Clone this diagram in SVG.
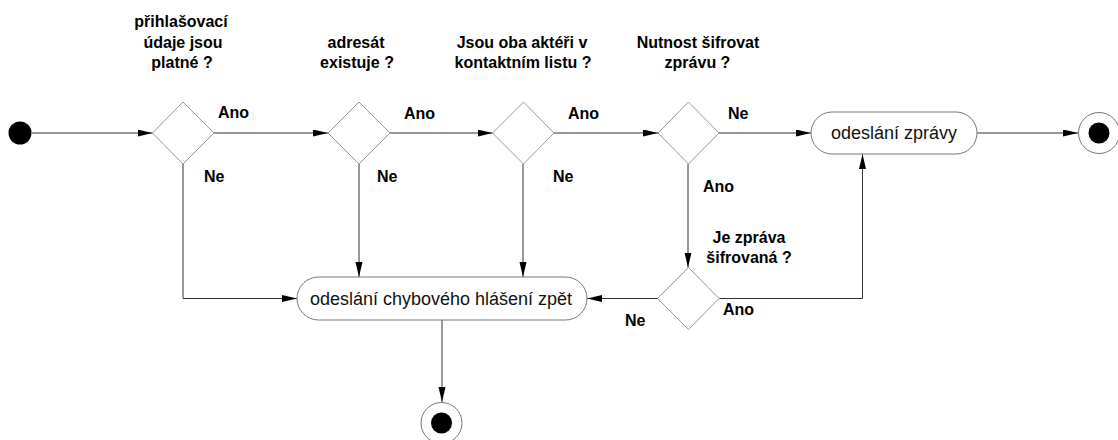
<svg xmlns="http://www.w3.org/2000/svg" width="1118" height="440" viewBox="0 0 1118 440">
<style>
.lbl{font-family:"Liberation Sans",Arial,sans-serif;font-size:16px;font-weight:bold;fill:#000}
.act{font-family:"Liberation Sans",Arial,sans-serif;font-size:18px;fill:#111}
.dia{fill:#fff;stroke:#999;stroke-width:1}
.box{fill:#fff;stroke:#777;stroke-width:1}
.ln{fill:none;stroke:#333;stroke-width:1}
</style>
<defs>
<marker id="ar" markerUnits="userSpaceOnUse" markerWidth="16" markerHeight="8" refX="15" refY="3.5" orient="auto">
<path d="M0,0 L15,3.5 L0,7 z" fill="#000"/>
</marker>
</defs>
<rect width="1118" height="440" fill="#fff"/>
<g id="connectors">
<line class="ln" x1="32" y1="133" x2="152.5" y2="133" marker-end="url(#ar)"/>
<line class="ln" x1="214" y1="133" x2="328" y2="133" marker-end="url(#ar)"/>
<line class="ln" x1="390" y1="133" x2="492.5" y2="133" marker-end="url(#ar)"/>
<line class="ln" x1="554" y1="133" x2="658" y2="133" marker-end="url(#ar)"/>
<line class="ln" x1="719" y1="133" x2="811" y2="133" marker-end="url(#ar)"/>
<line class="ln" x1="977" y1="133" x2="1078" y2="133" marker-end="url(#ar)"/>
<polyline class="ln" points="183,164 183,298.5 297,298.5" marker-end="url(#ar)"/>
<line class="ln" x1="359" y1="164" x2="359" y2="277" marker-end="url(#ar)"/>
<line class="ln" x1="523" y1="164" x2="523" y2="277" marker-end="url(#ar)"/>
<line class="ln" x1="688" y1="164" x2="688" y2="267.5" marker-end="url(#ar)"/>
<line class="ln" x1="657.5" y1="298.5" x2="587" y2="298.5" marker-end="url(#ar)"/>
<polyline class="ln" points="719,298.5 862.5,298.5 862.5,154" marker-end="url(#ar)"/>
<line class="ln" x1="442" y1="320" x2="442" y2="402" marker-end="url(#ar)"/>
<text class="lbl" x="218" y="118">Ano</text>
<text class="lbl" x="204" y="182">Ne</text>
<text class="lbl" x="404" y="119">Ano</text>
<text class="lbl" x="377" y="182">Ne</text>
<text class="lbl" x="568" y="119">Ano</text>
<text class="lbl" x="553" y="182">Ne</text>
<text class="lbl" x="728" y="119">Ne</text>
<text class="lbl" x="703" y="192">Ano</text>
<text class="lbl" x="723" y="315">Ano</text>
<text class="lbl" x="625" y="326">Ne</text>
</g>
<g id="start"><circle cx="20" cy="133" r="11.5" fill="#000"/></g>
<g id="d1">
<polygon class="dia" points="183,102 214,133 183,164 152.5,133"/>
<text class="lbl" text-anchor="middle"><tspan x="181" y="27">přihlašovací</tspan><tspan x="183" y="47.7">údaje jsou</tspan><tspan x="182" y="67.7">platné ?</tspan></text>
</g>
<g id="d2">
<polygon class="dia" points="359,102 390,133 359,164 328,133"/>
<text class="lbl" text-anchor="middle"><tspan x="356" y="47.7">adresát</tspan><tspan x="357" y="67.7">existuje ?</tspan></text>
</g>
<g id="d3">
<polygon class="dia" points="523.5,102 554,133 523.5,164 492.5,133"/>
<text class="lbl" text-anchor="middle"><tspan x="522" y="47.7">Jsou oba aktéři v</tspan><tspan x="523" y="67.7">kontaktním listu ?</tspan></text>
</g>
<g id="d4">
<polygon class="dia" points="688.5,102 719,133 688.5,164 658,133"/>
<text class="lbl" text-anchor="middle"><tspan x="698" y="47.7">Nutnost šifrovat</tspan><tspan x="697.5" y="67.7">zprávu ?</tspan></text>
</g>
<g id="d5">
<polygon class="dia" points="688.5,267.5 719,298.5 688.5,329.5 657.5,298.5"/>
<text class="lbl" text-anchor="middle"><tspan x="749" y="243.3">Je zpráva</tspan><tspan x="749" y="263.3">šifrovaná ?</tspan></text>
</g>
<g id="send">
<rect class="box" x="811" y="112" width="166" height="42" rx="21" ry="21"/>
<text class="act" x="894" y="139" text-anchor="middle">odeslání zprávy</text>
</g>
<g id="error">
<rect class="box" x="297" y="277" width="290" height="43" rx="21.5" ry="21.5"/>
<text class="act" x="441" y="305" text-anchor="middle">odeslání chybového hlášení zpět</text>
</g>
<g id="end1">
<circle cx="1099" cy="133" r="20.5" fill="#fff" stroke="#777"/>
<circle cx="1099" cy="133" r="10.5" fill="#000"/>
</g>
<g id="end2">
<circle cx="441.5" cy="423" r="20.5" fill="#fff" stroke="#777"/>
<circle cx="441.5" cy="423" r="10.5" fill="#000"/>
</g>
</svg>
